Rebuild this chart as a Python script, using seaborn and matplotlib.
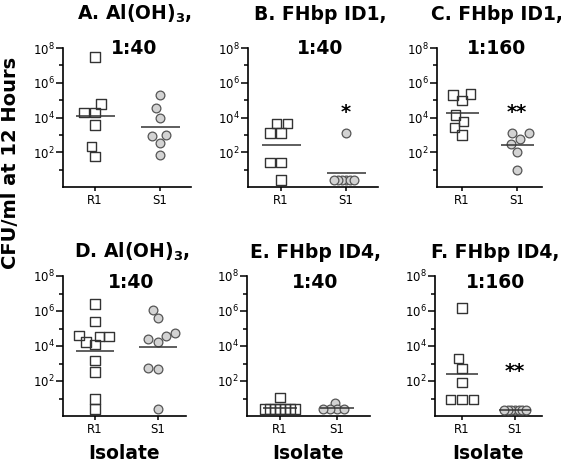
import numpy as np
import pandas as pd
import seaborn as sns
import matplotlib.pyplot as plt
import matplotlib.ticker as mticker

# CFU/ml at 12 hours (points at ~2.5 sit at the detection limit)
groups = ['R1', 'S1']

a_r1 = [3.0e7, 6.0e4, 1.9e4, 1.9e4, 3.6e3, 2.2e2, 5.9e1]
a_s1 = [2.0e5, 3.4e4, 9.8e3, 9.8e2, 8.5e2, 3.2e2, 7.4e1]
b_r1 = [4.6e3, 4.6e3, 1.3e3, 1.3e3, 25, 25, 2.6]
b_s1 = [1.2e3, 2.5, 2.5, 2.5, 2.5, 2.5, 2.5]
c_r1 = [2.0e5, 2.3e5, 9.3e4, 1.4e4, 5.8e3, 2.7e3, 9.8e2]
c_s1 = [1.3e3, 1.3e3, 5.5e2, 3.0e2, 1.0e2, 9.1]
d_r1 = [2.5e6, 2.5e5, 3.4e4, 3.4e4, 3.9e4, 1.7e4, 1.2e4, 1.5e3, 3.2e2, 9.1, 2.5]
d_s1 = [1.2e6, 4.0e5, 3.9e4, 5.2e4, 2.5e4, 1.7e4, 5.5e2, 4.6e2, 2.5]
e_r1 = [11, 2.5, 2.5, 2.5, 2.5, 2.5, 2.5, 2.5]
e_s1 = [5.8, 2.5, 2.5, 2.5, 2.5]
f_r1 = [1.5e6, 2.0e3, 5.0e2, 83, 8.7, 8.7, 8.7]
f_s1 = [2.2, 2.2, 2.2, 2.2, 2.2, 2.2, 2.2]

titles = [('A. Al(OH)$_3$,', '1:40'), ('B. FHbp ID1,', '1:40'), ('C. FHbp ID1,', '1:160'),
          ('D. Al(OH)$_3$,', '1:40'), ('E. FHbp ID4,', '1:40'), ('F. FHbp ID4,', '1:160')]
series = [(a_r1, a_s1), (b_r1, b_s1), (c_r1, c_s1), (d_r1, d_s1), (e_r1, e_s1), (f_r1, f_s1)]
stars = {1: ('*', 2.0e4), 2: ('**', 2.0e4), 5: ('**', 3.5e2)}

sns.set_style('ticks')
plt.rcParams['font.family'] = ['DejaVu Sans']
plt.rcParams['mathtext.default'] = 'regular'
for key in ('text.color', 'axes.labelcolor', 'xtick.color', 'ytick.color'):
    plt.rcParams[key] = 'black'

W, H = 566, 468
fig = plt.figure(figsize=(W / 100, H / 100), dpi=100)

# panel boxes in pixels: left spine, R1, S1, right end, top, bottom
boxes = [(63, 95, 160, 191, 48, 187), (248, 281, 346, 378, 48, 187), (437, 462, 517, 542, 48, 187),
         (63, 95, 158, 186, 276, 416), (247, 280, 337, 370, 276, 416), (435, 462, 515, 542, 276, 416)]
# swarm spacing used for layout (markers get enlarged after)
spread = [(6.5, 6.5), (6.5, 1.8), (6.5, 6.5), (5.5, 6.0), (2.4, 4.0), (7.0, 1.6)]

SQ, CI = 6.8, 6.3
enlarge = []
for k, ((r1, s1), box) in enumerate(zip(series, boxes)):
    left, xr, xs, right, top, bottom = box
    ax = fig.add_axes([left / W, 1 - bottom / H, (right - left) / W, (bottom - top) / H])
    df = pd.DataFrame({'isolate': ['R1'] * len(r1) + ['S1'] * len(s1), 'cfu': r1 + s1})

    n0 = len(ax.collections)
    sns.swarmplot(data=df[df.isolate == 'R1'], x='isolate', y='cfu', order=groups, marker='s',
                  size=spread[k][0], color='white', edgecolor='#333333', linewidth=1,
                  log_scale=True, warn_thresh=1, ax=ax)
    for coll in ax.collections[n0:]:
        coll.set_facecolor('none')
        enlarge.append((coll, SQ))
    n0 = len(ax.collections)
    sns.swarmplot(data=df[df.isolate == 'S1'], x='isolate', y='cfu', order=groups, marker='o',
                  size=spread[k][1], color='#d3d3d3', edgecolor='#555555', linewidth=0.9,
                  log_scale=True, warn_thresh=1, ax=ax)
    for coll in ax.collections[n0:]:
        enlarge.append((coll, CI))

    # geometric mean lines
    for i, vals in enumerate((r1, s1)):
        gm = 10 ** np.mean(np.log10(vals))
        ax.hlines(gm, i - 0.3, i + 0.3, color='#333333', lw=1.1, zorder=5)

    sp = xs - xr
    ax.set_xlim(-(xr - left) / sp, 1 + (right - xs) / sp)
    ax.set_ylim(1, 1e8)
    ax.set_yticks([1e2, 1e4, 1e6, 1e8])
    ax.set_yticks([1e1, 1e3, 1e5, 1e7], minor=True)
    ax.yaxis.set_minor_formatter(mticker.NullFormatter())
    ax.tick_params(axis='y', which='major', length=5, width=1.1, labelsize=8.5, pad=1)
    ax.tick_params(axis='y', which='minor', length=3, width=1.1)
    ax.tick_params(axis='x', length=3, width=1.1, labelsize=8.5, pad=2)
    ax.set_ylabel('')
    if k >= 3:
        ax.set_xlabel('Isolate', fontsize=13.5, fontweight='bold', labelpad=6)
    else:
        ax.set_xlabel('')
    sns.despine(ax=ax)
    for s in ('left', 'bottom'):
        ax.spines[s].set_linewidth(1.2)
        ax.spines[s].set_color('black')

    if k in stars:
        txt, yv = stars[k]
        ax.text(1, yv, txt, ha='center', va='center', fontsize=14, fontweight='bold')

    cx = (left + right) / 2 + 7
    y1, y2 = (20, 54) if k < 3 else (258, 288)
    fig.text(cx / W, 1 - y1 / H, titles[k][0], ha='center', va='baseline',
             fontsize=13.5, fontweight='bold')
    fig.text(cx / W, 1 - y2 / H, titles[k][1], ha='center', va='baseline',
             fontsize=13.5, fontweight='bold')

fig.text(11 / W, 1 - 163 / H, 'CFU/ml at 12 Hours', rotation=90, ha='center', va='center',
         fontsize=14, fontweight='bold')

# seaborn places the swarm at draw time; freeze it, then bump the markers up
fig.canvas.draw()
for coll, size in enlarge:
    if 'draw' in vars(coll):
        del coll.draw
    coll.set_sizes([size ** 2])

fig.savefig('out.png', dpi=100)
